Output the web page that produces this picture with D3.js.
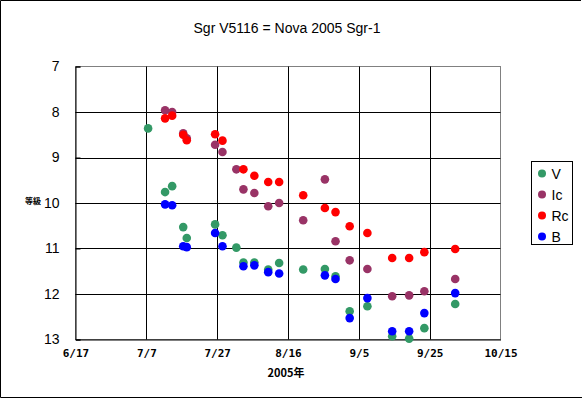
<!DOCTYPE html>
<html>
<head>
<meta charset="utf-8">
<script src="https://cdn.jsdelivr.net/npm/d3@7"></script>
<style>
body { margin: 0; background: #fff; }
svg { display: block; font-family: "Liberation Sans", Arial, sans-serif; }
.xlab { font-family: "DejaVu Sans Mono", monospace; font-weight: bold; font-size: 11px; }
</style>
</head>
<body>
<svg id="chart" width="582" height="398"></svg>
<script>
const title = "Sgr V5116 = Nova 2005 Sgr-1";
const bands = ["V", "Ic", "Rc", "B"];
const bandColors = ["#339966", "#993366", "#ff0000", "#0000ff"];

// observation times (local), one row per night
const obsV = [
  ["2005-07-07T12:00", 8.36], ["2005-07-12T07:00", 9.76], ["2005-07-14T07:00", 9.63],
  ["2005-07-17T10:00", 10.53], ["2005-07-18T10:00", 10.77], ["2005-07-26T10:00", 10.47],
  ["2005-07-28T12:00", 10.71], ["2005-08-01T10:00", 10.98], ["2005-08-03T10:00", 11.31],
  ["2005-08-06T12:00", 11.31], ["2005-08-10T10:00", 11.46], ["2005-08-13T12:00", 11.32],
  ["2005-08-20T07:00", 11.46], ["2005-08-26T10:00", 11.45], ["2005-08-29T10:00", 11.61],
  ["2005-09-02T10:00", 12.38], ["2005-09-07T10:00", 12.27], ["2005-09-14T10:00", 12.93],
  ["2005-09-19T05:00", 12.98], ["2005-09-23T12:00", 12.75], ["2005-10-02T05:00", 12.22]
];
const obsIc = [
  ["2005-07-12T07:00", 7.96], ["2005-07-14T07:00", 8.0], ["2005-07-17T10:00", 8.47],
  ["2005-07-18T10:00", 8.58], ["2005-07-26T10:00", 8.72], ["2005-07-28T12:00", 8.88],
  ["2005-08-01T10:00", 9.26], ["2005-08-03T10:00", 9.70], ["2005-08-06T12:00", 9.78],
  ["2005-08-10T10:00", 10.07], ["2005-08-13T12:00", 10.0], ["2005-08-20T07:00", 10.38],
  ["2005-08-26T10:00", 9.48], ["2005-08-29T10:00", 10.84], ["2005-09-02T10:00", 11.26],
  ["2005-09-07T10:00", 11.45], ["2005-09-14T10:00", 12.05], ["2005-09-19T05:00", 12.03],
  ["2005-09-23T12:00", 11.94], ["2005-10-02T05:00", 11.67]
];
const obsRc = [
  ["2005-07-12T07:00", 8.14], ["2005-07-14T07:00", 8.08], ["2005-07-17T10:00", 8.5],
  ["2005-07-18T10:00", 8.62], ["2005-07-26T10:00", 8.49], ["2005-07-28T12:00", 8.63],
  ["2005-08-03T10:00", 9.26], ["2005-08-06T12:00", 9.40], ["2005-08-10T10:00", 9.54],
  ["2005-08-13T12:00", 9.54], ["2005-08-20T07:00", 9.83], ["2005-08-26T10:00", 10.11],
  ["2005-08-29T10:00", 10.2], ["2005-09-02T10:00", 10.51], ["2005-09-07T10:00", 10.66],
  ["2005-09-14T10:00", 11.21], ["2005-09-19T05:00", 11.21], ["2005-09-23T12:00", 11.08],
  ["2005-10-02T05:00", 11.01]
];
const obsB = [
  ["2005-07-12T07:00", 10.03], ["2005-07-14T07:00", 10.05], ["2005-07-17T10:00", 10.95],
  ["2005-07-18T10:00", 10.97], ["2005-07-26T10:00", 10.66], ["2005-07-28T12:00", 10.95],
  ["2005-08-03T10:00", 11.39], ["2005-08-06T12:00", 11.37], ["2005-08-10T10:00", 11.52],
  ["2005-08-13T12:00", 11.55], ["2005-08-26T10:00", 11.59], ["2005-08-29T10:00", 11.67],
  ["2005-09-02T10:00", 12.53], ["2005-09-07T10:00", 12.09], ["2005-09-14T10:00", 12.82],
  ["2005-09-19T05:00", 12.82], ["2005-09-23T12:00", 12.42], ["2005-10-02T05:00", 11.98]
];
const series = [obsV, obsIc, obsRc, obsB];

const yTicks = [7, 8, 9, 10, 11, 12, 13];
const startDate = new Date(2005, 5, 17);
const xTicks = d3.range(0, 121, 20).map(d => d3.timeDay.offset(startDate, d));
const xTitle = "2005年";
const yTitle = "等級";

const svg = d3.select("#chart");
const pLeft = 75.5, pRight = 500.5, pTop = 66.5, pBottom = 339.5;

const xScale = d3.scaleTime()
  .domain([xTicks[0], xTicks[xTicks.length - 1]])
  .range([pLeft, pRight]);
const yScale = d3.scaleLinear()
  .domain([7, 13])
  .range([pTop, pBottom]);

// outer frame
svg.append("path")
  .attr("d", "M581,0.5 H0.5 V397.5 H582")
  .attr("fill", "none").attr("stroke", "#000");

// plot area border (grey)
svg.append("rect")
  .attr("x", pLeft).attr("y", pTop)
  .attr("width", pRight - pLeft).attr("height", pBottom - pTop)
  .attr("fill", "none").attr("stroke", "#808080");

// gridlines
svg.append("g").selectAll("line")
  .data(yTicks.slice(1, -1))
  .join("line")
  .attr("x1", pLeft).attr("x2", pRight)
  .attr("y1", d => Math.round(yScale(d)) + 0.5).attr("y2", d => Math.round(yScale(d)) + 0.5)
  .attr("stroke", "#000");
svg.append("g").selectAll("line")
  .data(xTicks.slice(1, -1))
  .join("line")
  .attr("x1", d => Math.round(xScale(d)) + 0.5).attr("x2", d => Math.round(xScale(d)) + 0.5)
  .attr("y1", pTop).attr("y2", pBottom)
  .attr("stroke", "#000");

// axes
const yAxis = d3.axisLeft(yScale).tickValues(yTicks).tickSize(-5).tickPadding(16)
  .tickFormat(d3.format("d"));
const gy = svg.append("g").attr("transform", `translate(${pLeft},0)`).call(yAxis);
gy.select(".domain").attr("stroke", "#000");
gy.selectAll(".tick line").attr("stroke", "#000");
gy.selectAll("text")
  .attr("font-family", "'Liberation Sans', Arial, sans-serif")
  .attr("font-weight", "normal")
  .attr("font-size", 14).attr("fill", "#000");

const xAxis = d3.axisBottom(xScale).tickValues(xTicks).tickSize(0)
  .tickFormat(d3.timeFormat("%-m/%-d"));
const gx = svg.append("g").attr("transform", `translate(0,${pBottom})`).call(xAxis);
gx.select(".domain").attr("stroke", "#000");
gx.selectAll("text")
  .attr("class", "xlab")
  .attr("y", 10)
  .attr("font-family", null).attr("font-size", null)
  .attr("fill", "#000");

// points
bands.forEach((b, i) => {
  svg.append("g").selectAll("circle")
    .data(series[i])
    .join("circle")
    .attr("cx", d => xScale(new Date(d[0])))
    .attr("cy", d => yScale(d[1]))
    .attr("r", 4.3)
    .attr("fill", bandColors[i]);
});

// titles
svg.append("text")
  .attr("x", 287).attr("y", 33)
  .attr("text-anchor", "middle")
  .attr("font-size", 14)
  .text(title);

svg.append("text")
  .attr("x", 286).attr("y", 377)
  .attr("text-anchor", "middle")
  .attr("font-size", 11).attr("font-weight", "bold")
  .attr("font-family", "'Noto Sans CJK JP', sans-serif")
  .text(xTitle);

svg.append("text")
  .attr("x", 41).attr("y", 204)
  .attr("text-anchor", "end")
  .attr("font-size", 8).attr("font-weight", "bold")
  .attr("font-family", "'Noto Sans CJK JP', sans-serif")
  .text(yTitle);

// legend
const legend = svg.append("g").attr("transform", "translate(531.5,161.5)");
legend.append("rect")
  .attr("width", 41).attr("height", 83)
  .attr("fill", "#fff").attr("stroke", "#000");
const items = legend.selectAll(".item")
  .data(bands)
  .join("g")
  .attr("transform", (d, i) => `translate(0,${12 + i * 21})`);
items.append("circle")
  .attr("cx", 10.5).attr("cy", 0)
  .attr("r", 4)
  .attr("fill", (d, i) => bandColors[i]);
items.append("text")
  .attr("x", 20).attr("y", 5)
  .attr("font-size", 14)
  .text(d => d);
</script>
</body>
</html>
